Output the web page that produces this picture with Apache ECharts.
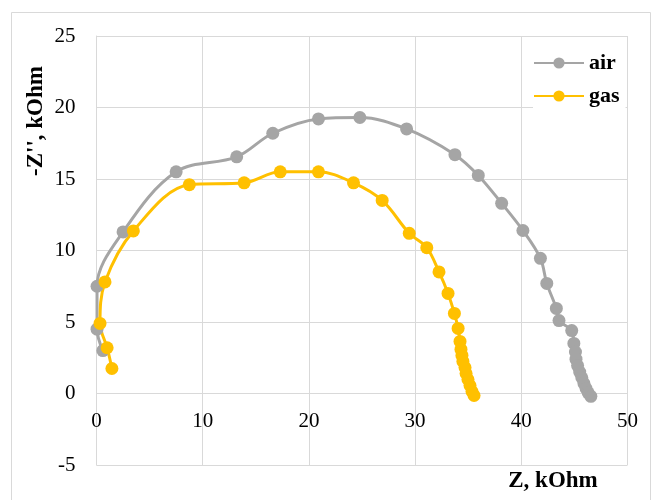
<!DOCTYPE html>
<html>
<head>
<meta charset="utf-8">
<script src="https://cdn.jsdelivr.net/npm/echarts@6/dist/echarts.min.js"></script>
<style>
  html, body { margin: 0; padding: 0; background: #ffffff; }
  #chart { width: 654px; height: 500px; }
</style>
</head>
<body>
<div id="chart"></div>
<script>
// Nyquist plot: real part Z vs. negative imaginary part -Z'' (kOhm)
const seriesNames = ['air', 'gas'];

const airZ   = [0.6, 0.05, 0.05, 2.5, 7.5, 13.2, 16.6, 20.9, 24.8, 29.2, 33.75, 35.95, 38.15, 40.15, 41.8, 42.4, 43.3, 43.55, 44.75, 44.95, 45.1, 45.15, 45.3, 45.5, 45.7, 45.9, 46.1, 46.3, 46.55];
const airZim = [3.0, 4.5, 7.5, 11.3, 15.5, 16.55, 18.2, 19.2, 19.3, 18.5, 16.7, 15.25, 13.3, 11.4, 9.45, 7.7, 5.95, 5.1, 4.4, 3.5, 2.9, 2.4, 1.95, 1.5, 1.1, 0.7, 0.35, 0.05, -0.2];

const gasZ   = [1.45, 1.0, 0.33, 0.8, 3.47, 8.74, 13.9, 17.3, 20.9, 24.2, 26.9, 29.45, 31.1, 32.25, 33.1, 33.7, 34.05, 34.23, 34.32, 34.41, 34.5, 34.7, 34.8, 34.98, 35.17, 35.36, 35.55];
const gasZim = [1.75, 3.2, 4.9, 7.8, 11.37, 14.6, 14.73, 15.5, 15.5, 14.73, 13.5, 11.2, 10.2, 8.5, 7.0, 5.6, 4.55, 3.64, 3.08, 2.66, 2.24, 1.82, 1.4, 0.98, 0.56, 0.14, -0.14];

const xTitle = 'Z, kOhm';
const yTitle = "-Z'', kOhm";

const pairs = (xs, ys) => xs.map((x, i) => [x, ys[i]]);

const serifFont = '"Liberation Serif", "Times New Roman", serif';
const gridColor = '#D9D9D9';
const colors = ['#A5A5A5', '#FFC000'];

// plot box
const gridTop = 36, gridBottom = 35, chartH = 500;
const yMin = -5, yMax = 25;
// distance from the plot bottom up to the Z'' = 0 line, so the Z axis labels sit under it
const plotH = chartH - gridTop - gridBottom;
const zeroLift = plotH * (0 - yMin) / (yMax - yMin);

const chart = echarts.init(document.getElementById('chart'), null, { renderer: 'canvas' });

const makeSeries = (name, data, color) => ({
  name: name,
  type: 'line',
  data: data,
  smooth: 0.35,
  symbol: 'circle',
  symbolSize: 13,
  showSymbol: true,
  lineStyle: { color: color, width: 3 },
  itemStyle: { color: color },
  emphasis: { disabled: true },
  animation: false
});

chart.setOption({
  animation: false,
  backgroundColor: '#ffffff',
  grid: { left: 96.5, right: 26.5, top: gridTop, bottom: gridBottom, containLabel: false },
  xAxis: [
    {
      // gridlines only
      type: 'value',
      min: 0, max: 50, interval: 10,
      axisLine: { show: false },
      axisTick: { show: false },
      axisLabel: { show: false },
      splitLine: { show: true, lineStyle: { color: gridColor, width: 1 } }
    },
    {
      // tick labels placed along Z'' = 0
      type: 'value',
      position: 'bottom',
      offset: -zeroLift,
      min: 0, max: 50, interval: 10,
      axisLine: { show: false },
      axisTick: { show: false },
      axisLabel: { color: '#000', fontFamily: serifFont, fontSize: 21, margin: 17 },
      splitLine: { show: false }
    }
  ],
  yAxis: {
    type: 'value',
    min: yMin, max: yMax, interval: 5,
    axisLine: { show: true, lineStyle: { color: gridColor, width: 1 } },
    axisTick: { show: false },
    axisLabel: { color: '#000', fontFamily: serifFont, fontSize: 21, margin: 21 },
    splitLine: { show: true, lineStyle: { color: gridColor, width: 1 } }
  },
  legend: {
    data: seriesNames,
    orient: 'vertical',
    left: 533, top: 48,
    itemWidth: 50, itemHeight: 14, itemGap: 11,
    backgroundColor: '#ffffff',
    padding: [4, 6, 4, 0],
    textStyle: { color: '#000', fontFamily: serifFont, fontSize: 22, fontWeight: 'bold' }
  },
  graphic: [
    {
      type: 'rect', silent: true, z: -1,
      shape: { x: 11.5, y: 12.5, width: 639, height: 500 },
      style: { fill: 'none', stroke: gridColor, lineWidth: 1 }
    },
    {
      type: 'text', silent: true,
      x: 553, y: 481,
      style: { text: xTitle, font: 'bold 23px ' + serifFont, fill: '#000', align: 'center', verticalAlign: 'middle' }
    },
    {
      type: 'text', silent: true,
      x: 36, y: 121, rotation: Math.PI / 2,
      style: { text: yTitle, font: 'bold 23px ' + serifFont, fill: '#000', align: 'center', verticalAlign: 'middle' }
    }
  ],
  series: [
    makeSeries(seriesNames[0], pairs(airZ, airZim), colors[0]),
    makeSeries(seriesNames[1], pairs(gasZ, gasZim), colors[1])
  ]
});
</script>
</body>
</html>
